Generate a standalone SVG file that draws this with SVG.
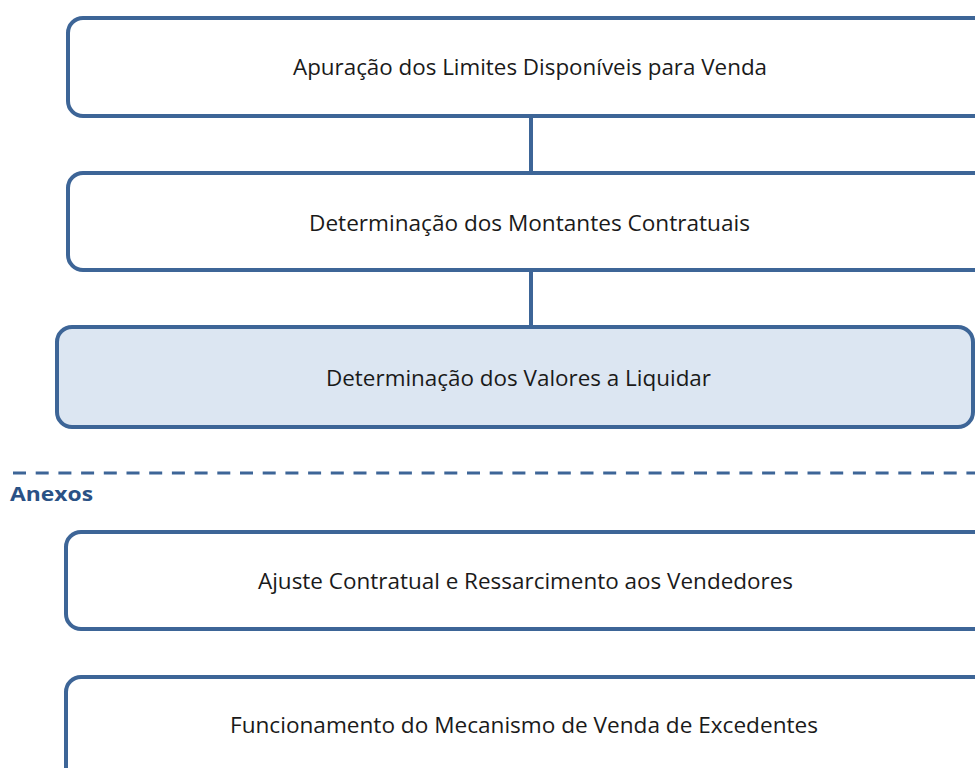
<svg xmlns="http://www.w3.org/2000/svg" width="975" height="768" viewBox="0 0 975 768">
<style>
.box{fill:#ffffff;stroke:#3d6597;stroke-width:4}
.hl{fill:#dce6f2}
.lbl{font-family:"Open Sans","Liberation Sans",sans-serif;font-size:21px;fill:#1a1a1a;text-anchor:middle}
.conn{stroke:#3d6597;stroke-width:4;fill:none}
.sep{stroke:#3d6597;stroke-width:3;stroke-dasharray:13 9.7;fill:none}
.sec{font-family:"Open Sans","Liberation Sans",sans-serif;font-size:20px;font-weight:bold;fill:#2a5185}
</style>
<rect width="975" height="768" fill="#ffffff"/>
<g id="connectors">
<line class="conn" x1="531" y1="116" x2="531" y2="173"/>
<line class="conn" x1="531" y1="270" x2="531" y2="327"/>
</g>
<g id="node1">
<rect class="box" x="68" y="18" width="940" height="98" rx="15"/>
<text class="lbl" x="530" y="75" textLength="474" lengthAdjust="spacingAndGlyphs">Apuração dos Limites Disponíveis para Venda</text>
</g>
<g id="node2">
<rect class="box" x="68" y="173" width="940" height="97" rx="15"/>
<text class="lbl" x="529.5" y="231" textLength="441" lengthAdjust="spacingAndGlyphs">Determinação dos Montantes Contratuais</text>
</g>
<g id="node3">
<rect class="box hl" x="57" y="327" width="916" height="100" rx="15"/>
<text class="lbl" x="518.5" y="386" textLength="385" lengthAdjust="spacingAndGlyphs">Determinação dos Valores a Liquidar</text>
</g>
<g id="separator">
<line class="sep" x1="13" y1="473" x2="975" y2="473"/>
<text class="sec" x="10" y="501" textLength="83" lengthAdjust="spacingAndGlyphs">Anexos</text>
</g>
<g id="node4">
<rect class="box" x="66" y="532" width="940" height="97" rx="15"/>
<text class="lbl" x="525.5" y="589" textLength="535" lengthAdjust="spacingAndGlyphs">Ajuste Contratual e Ressarcimento aos Vendedores</text>
</g>
<g id="node5">
<rect class="box" x="66" y="677" width="940" height="110" rx="15"/>
<text class="lbl" x="524" y="733" textLength="588" lengthAdjust="spacingAndGlyphs">Funcionamento do Mecanismo de Venda de Excedentes</text>
</g>
</svg>
